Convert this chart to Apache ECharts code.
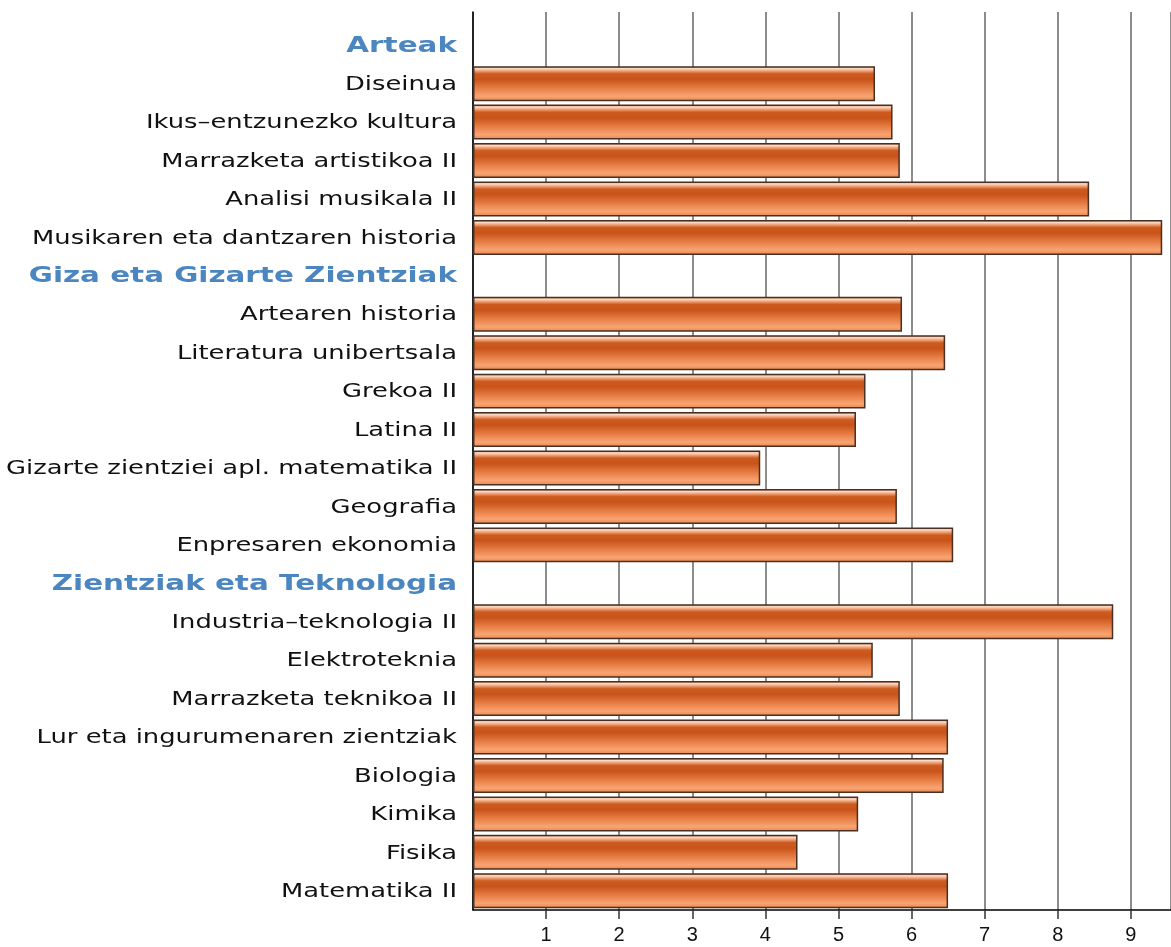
<!DOCTYPE html>
<html>
<head>
<meta charset="utf-8">
<script src="https://cdn.jsdelivr.net/npm/echarts@6/dist/echarts.min.js"></script>
<style>
  html, body { margin: 0; padding: 0; background: #fff; }
  #main { width: 1171px; height: 947px; }
</style>
</head>
<body>
<div id="main"></div>
<script>
// taldeak eta ikasgaiak
var groupNames = ['Arteak', 'Giza eta Gizarte Zientziak', 'Zientziak eta Teknologia'];
var artsSubjects = ['Diseinua', 'Ikus\u2013entzunezko kultura', 'Marrazketa artistikoa II', 'Analisi musikala II', 'Musikaren eta dantzaren historia'];
var artsScores = [5.50, 5.74, 5.84, 8.43, 9.43];
var socialSubjects = ['Artearen historia', 'Literatura unibertsala', 'Grekoa II', 'Latina II', 'Gizarte zientziei apl. matematika II', 'Geografia', 'Enpresaren ekonomia'];
var socialScores = [5.87, 6.46, 5.37, 5.24, 3.93, 5.80, 6.57];
var scienceSubjects = ['Industria\u2013teknologia II', 'Elektroteknia', 'Marrazketa teknikoa II', 'Lur eta ingurumenaren zientziak', 'Biologia', 'Kimika', 'Fisika', 'Matematika II'];
var scienceScores = [8.76, 5.47, 5.84, 6.50, 6.44, 5.27, 4.44, 6.50];
var xTicks = [1, 2, 3, 4, 5, 6, 7, 8, 9];

var subjectLists = [artsSubjects, socialSubjects, scienceSubjects];
var scoreLists = [artsScores, socialScores, scienceScores];

// kategoria zerrenda osoa: talde izenburua + ikasgaiak
var categories = [];
var values = [];
var isHeader = [];
for (var g = 0; g < groupNames.length; g++) {
  categories.push(groupNames[g]);
  values.push(null);
  isHeader.push(true);
  for (var i = 0; i < subjectLists[g].length; i++) {
    categories.push(subjectLists[g][i]);
    values.push(scoreLists[g][i]);
    isHeader.push(false);
  }
}
var labelData = [];
for (var i = 0; i < categories.length; i++) {
  labelData.push([0, i]);
}

var chart = echarts.init(document.getElementById('main'));

chart.setOption({
  backgroundColor: '#ffffff',
  animation: false,
  grid: [
    { left: 473, right: 0, top: 12, bottom: 37 },
    { left: 473, right: 0, top: 26, bottom: 37 }
  ],
  xAxis: [{
    gridIndex: 0,
    type: 'value',
    min: 0,
    max: 9.55,
    interval: 1,
    axisLine: { show: true, lineStyle: { color: '#000', width: 1.5 } },
    axisTick: { show: true, length: 9, lineStyle: { color: '#333', width: 1.5 } },
    axisLabel: {
      showMinLabel: false,
      showMaxLabel: false,
      margin: 15,
      fontSize: 20,
      fontFamily: 'Liberation Sans',
      color: '#111',
      formatter: function (v) { return xTicks.indexOf(v) >= 0 ? String(v) : ''; }
    },
    splitLine: { show: true, lineStyle: { color: '#8c8c8c', width: 2 } }
  }, {
    gridIndex: 1,
    type: 'value',
    min: 0,
    max: 9.55,
    interval: 1,
    show: false
  }],
  yAxis: [{
    gridIndex: 0,
    type: 'value',
    min: 0,
    max: 1,
    axisLine: { show: true, onZero: false, lineStyle: { color: '#000', width: 1.5 } },
    axisTick: { show: false },
    axisLabel: { show: false },
    splitLine: { show: false }
  }, {
    gridIndex: 1,
    type: 'category',
    inverse: true,
    data: categories,
    axisLine: { show: false },
    axisTick: { show: false },
    axisLabel: { show: false },
    splitLine: { show: false }
  }],
  series: [{
    type: 'bar',
    xAxisIndex: 1,
    yAxisIndex: 1,
    data: values,
    barCategoryGap: '9%',
    itemStyle: {
      borderColor: '#4a3022',
      borderWidth: 1.5,
      color: new echarts.graphic.LinearGradient(0, 0, 0, 1, [
        { offset: 0, color: '#dc7444' },
        { offset: 0.07, color: '#fbdcc8' },
        { offset: 0.13, color: '#f0a67e' },
        { offset: 0.22, color: '#cd5a1e' },
        { offset: 0.38, color: '#c8541b' },
        { offset: 0.62, color: '#e57c43' },
        { offset: 0.86, color: '#f9a472' },
        { offset: 1, color: '#e6864f' }
      ])
    }
  }, {
    // kategoria etiketak, horizontalki zabalduta
    type: 'custom',
    xAxisIndex: 1,
    yAxisIndex: 1,
    data: labelData,
    encode: { x: 0, y: 1 },
    clip: false,
    silent: true,
    renderItem: function (params, api) {
      var idx = api.value(1);
      var p = api.coord([0, idx]);
      var head = isHeader[idx];
      return {
        type: 'text',
        x: p[0] - 16,
        y: p[1] + 1,
        scaleX: head ? 1.40 : 1.29,
        style: {
          x: 0,
          y: 0,
          text: categories[idx],
          align: 'right',
          verticalAlign: 'middle',
          fontFamily: 'DejaVu Sans',
          fontSize: head ? 21 : 20,
          fontWeight: head ? 'bold' : 'normal',
          fill: head ? '#4b86c0' : '#111'
        }
      };
    }
  }]
});
</script>
</body>
</html>
